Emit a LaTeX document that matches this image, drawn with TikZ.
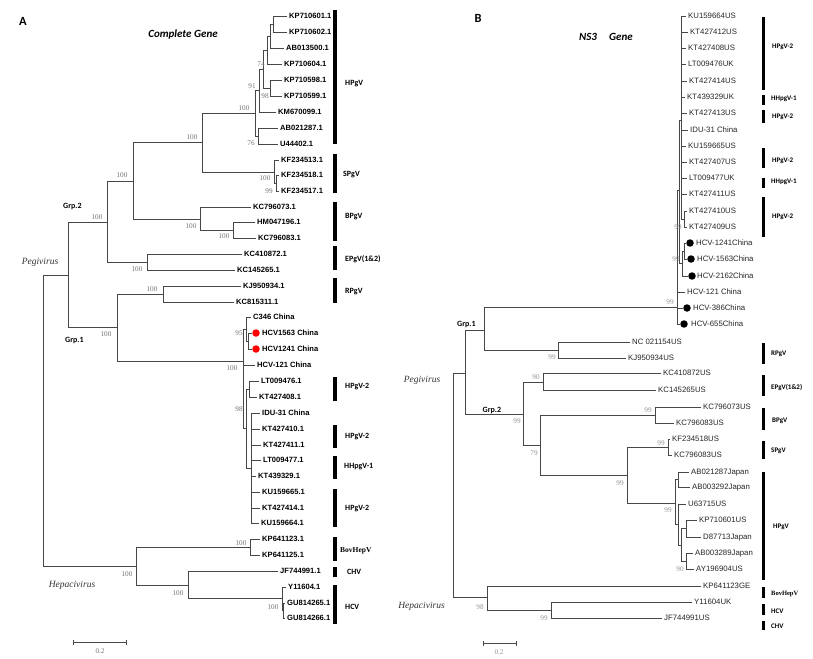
\documentclass[tikz,border=0pt]{standalone}
\usepackage{fontspec}
\setmainfont{Liberation Serif}
\newfontfamily\arialf{Liberation Sans}
\newfontfamily\calf{Carlito}
\begin{document}
\begin{tikzpicture}[x=1pt,y=-1pt,
  br/.style={draw=black!72, line width=0.55pt},
  leafA/.style={anchor=west, inner xsep=2pt, inner ysep=0pt, text height=5.6pt, text depth=0pt, font=\arialf\bfseries\fontsize{7.6}{8}\selectfont},
  leafB/.style={anchor=west, inner xsep=2pt, inner ysep=0pt, text height=5.6pt, text depth=0pt, font=\arialf\fontsize{7.8}{8}\selectfont, text=black!85},
  bs/.style={inner sep=0pt, font=\fontsize{7.2}{7.5}\selectfont, text=black!55},
  bsB/.style={bs, text=black!42},
  grp/.style={anchor=west, inner sep=0pt, font=\calf\bfseries\fontsize{8}{9}\selectfont},
  grpB/.style={anchor=west, inner sep=0pt, font=\calf\bfseries\fontsize{7}{8}\selectfont},
  grpS/.style={anchor=west, inner sep=0pt, font=\bfseries\fontsize{7.5}{8}\selectfont},
  barA/.style={line width=4pt},
  barB/.style={line width=3pt},
  rdot/.style={circle, fill=red, inner sep=0pt, minimum size=7.5pt},
  bdot/.style={circle, fill=black, inner sep=0pt, minimum size=7.5pt},
  genus/.style={inner sep=0pt, font=\itshape\fontsize{9.5}{10}\selectfont, text=black!80},
  ttl/.style={inner sep=0pt, font=\calf\bfseries\itshape\fontsize{11}{12}\selectfont},
  panel/.style={inner sep=0pt, font=\calf\bfseries\fontsize{12.5}{13}\selectfont},
]
\useasboundingbox (0,0) rectangle (813,658);
\fill[white] (0,0) rectangle (813,658);

% ================= Panel A =================
\node[panel] (pA) at (23,21) {A};
\node[ttl] (tA) at (183,35) {Complete Gene};

% leaves
\node[leafA] (a1) at (287,16) {KP710601.1};
\node[leafA] (a2) at (287,32) {KP710602.1};
\node[leafA] (a3) at (284,48) {AB013500.1};
\node[leafA] (a4) at (282,64) {KP710604.1};
\node[leafA] (a5) at (282,80) {KP710598.1};
\node[leafA] (a6) at (282,96) {KP710599.1};
\node[leafA] (a7) at (276,112) {KM670099.1};
\node[leafA] (a8) at (278,128) {AB021287.1};
\node[leafA] (a9) at (278,144) {U44402.1};
\node[leafA] (a10) at (279,160) {KF234513.1};
\node[leafA] (a11) at (279,175) {KF234518.1};
\node[leafA] (a12) at (279,191) {KF234517.1};
\node[leafA] (a13) at (251,207) {KC796073.1};
\node[leafA] (a14) at (255,222) {HM047196.1};
\node[leafA] (a15) at (256,238) {KC796083.1};
\node[leafA] (a16) at (242,254) {KC410872.1};
\node[leafA] (a17) at (235,270) {KC145265.1};
\node[leafA] (a18) at (241,286) {KJ950934.1};
\node[leafA] (a19) at (234,302) {KC815311.1};
\node[leafA] (a20) at (251,317) {C346 China};
\node[rdot] (d21) at (256,333) {};
\node[leafA] (a21) at (260,333) {HCV1563 China};
\node[rdot] (d22) at (256,349) {};
\node[leafA] (a22) at (260,349) {HCV1241 China};
\node[leafA] (a23) at (255,365) {HCV-121 China};
\node[leafA] (a24) at (259,381) {LT009476.1};
\node[leafA] (a25) at (257,397) {KT427408.1};
\node[leafA] (a26) at (260,413) {IDU-31 China};
\node[leafA] (a27) at (260,429) {KT427410.1};
\node[leafA] (a28) at (261,445) {KT427411.1};
\node[leafA] (a29) at (261,460) {LT009477.1};
\node[leafA] (a30) at (256,476) {KT439329.1};
\node[leafA] (a31) at (260,492) {KU159665.1};
\node[leafA] (a32) at (260,508) {KT427414.1};
\node[leafA] (a33) at (259,523) {KU159664.1};
\node[leafA] (a34) at (260,539) {KP641123.1};
\node[leafA] (a35) at (260,555) {KP641125.1};
\node[leafA] (a36) at (278,571) {JF744991.1};
\node[leafA] (a37) at (286,587) {Y11604.1};
\node[leafA] (a38) at (285,603) {GU814265.1};
\node[leafA] (a39) at (285,618) {GU814266.1};

% internal nodes
\coordinate (i1) at (273,24);
\coordinate (i2) at (270,36);
\coordinate (i74) at (267,50);
\coordinate (i98) at (270,88);
\coordinate (i91) at (263,69);
\coordinate (iX) at (259,90);
\coordinate (i76) at (258,136);
\coordinate (iH) at (255,113);
\coordinate (iS99) at (276,183);
\coordinate (iS) at (274,172);
\coordinate (iHS) at (202,142);
\coordinate (iB2) at (233,230);
\coordinate (iB) at (200,219);
\coordinate (iHSB) at (133,181);
\coordinate (iE) at (147,262);
\coordinate (iG2) at (107,222);
\coordinate (iR) at (163,294);
\coordinate (i95) at (248,341);
\coordinate (iC) at (246,329);
\coordinate (iL) at (249,389);
\coordinate (iRR) at (251,468);
\coordinate (i98b) at (246,428);
\coordinate (i100) at (243,361);
\coordinate (iG1) at (117,327);
\coordinate (iP) at (68,275);
\coordinate (iBov) at (250,547);
\coordinate (iHCV2) at (283.5,610);
\coordinate (iHCV) at (282,598);
\coordinate (iCH) at (188,585);
\coordinate (iHep) at (136,566);
\coordinate (rA) at (43,421);

% edges
\draw[br] (i1) |- (a1.west) (i1) |- (a2.west);
\draw[br] (i2) |- (i1) (i2) |- (a3.west);
\draw[br] (i74) |- (i2) (i74) |- (a4.west);
\draw[br] (i98) |- (a5.west) (i98) |- (a6.west);
\draw[br] (i91) |- (i74) (i91) |- (i98);
\draw[br] (iX) |- (i91) (iX) |- (a7.west);
\draw[br] (i76) |- (a8.west) (i76) |- (a9.west);
\draw[br] (iH) |- (iX) (iH) |- (i76);
\draw[br] (iS99) |- (a11.west) (iS99) |- (a12.west);
\draw[br] (iS) |- (a10.west) (iS) |- (iS99);
\draw[br] (iHS) |- (iH) (iHS) |- (iS);
\draw[br] (iB2) |- (a14.west) (iB2) |- (a15.west);
\draw[br] (iB) |- (a13.west) (iB) |- (iB2);
\draw[br] (iHSB) |- (iHS) (iHSB) |- (iB);
\draw[br] (iE) |- (a16.west) (iE) |- (a17.west);
\draw[br] (iG2) |- (iHSB) (iG2) |- (iE);
\draw[br] (iR) |- (a18.west) (iR) |- (a19.west);
\draw[br] (i95) |- (d21.west) (i95) |- (d22.west);
\draw[br] (iC) |- (a20.west) (iC) |- (i95);
\draw[br] (iL) |- (a24.west) (iL) |- (a25.west);
\draw[br] (iRR) |- (a26.west) (iRR) |- (a27.west) (iRR) |- (a28.west) (iRR) |- (a29.west)
          (iRR) |- (a30.west) (iRR) |- (a31.west) (iRR) |- (a32.west) (iRR) |- (a33.west);
\draw[br] (i98b) |- (iL) (i98b) |- (iRR);
\draw[br] (i100) |- (iC) (i100) |- (a23.west) (i100) |- (i98b);
\draw[br] (iG1) |- (iR) (iG1) |- (i100);
\draw[br] (iP) |- (iG2) (iP) |- (iG1);
\draw[br] (iBov) |- (a34.west) (iBov) |- (a35.west);
\draw[br] (iHCV2) |- (a38.west) (iHCV2) |- (a39.west);
\draw[br] (iHCV) |- (a37.west) (iHCV) |- (iHCV2);
\draw[br] (iCH) |- (a36.west) (iCH) |- (iHCV);
\draw[br] (iHep) |- (iBov) (iHep) |- (iCH);
\draw[br] (rA) |- (iP) (rA) |- (iHep);

% bootstrap values A
\node[bs] (ba1) at (261,64) {74};
\node[bs] (ba2) at (252,86) {91};
\node[bs] (ba3) at (265,96) {98};
\node[bs] (ba4) at (244,108) {100};
\node[bs] (ba5) at (251,143) {76};
\node[bs] (ba6) at (192,137) {100};
\node[bs] (ba7) at (265,178) {100};
\node[bs] (ba8) at (269,191) {99};
\node[bs] (ba9) at (191,226) {100};
\node[bs] (ba10) at (224,236) {100};
\node[bs] (ba11) at (122,175) {100};
\node[bs] (ba12) at (97,217) {100};
\node[bs] (ba13) at (137,269) {100};
\node[bs] (ba14) at (152,289) {100};
\node[bs] (ba15) at (106,334) {100};
\node[bs] (ba16) at (239,333) {95};
\node[bs] (ba17) at (232,368) {100};
\node[bs] (ba18) at (239,409) {98};
\node[bs] (ba19) at (241,543) {100};
\node[bs] (ba20) at (127,574) {100};
\node[bs] (ba21) at (178,593) {100};
\node[bs] (ba22) at (273,607) {100};

\node[grp] (gA2) at (63,207) {Grp.2};
\node[grp] (gA1) at (65,341) {Grp.1};
\node[genus] (pegA) at (40,262) {Pegivirus};
\node[genus] (hepA) at (72,585) {Hepacivirus};

% bars A
\draw[barA] (335,10) -- (335,144);
\draw[barA] (335,154) -- (335,193);
\draw[barA] (335,202) -- (335,241);
\draw[barA] (335,246) -- (335,270);
\draw[barA] (335,278) -- (335,303);
\draw[barA] (335,377) -- (335,401);
\draw[barA] (335,425) -- (335,448);
\draw[barA] (335,456) -- (335,479);
\draw[barA] (335,489) -- (335,527);
\draw[barA] (335,537) -- (335,561);
\draw[barA] (335,567) -- (335,577);
\draw[barA] (335,585) -- (335,624);
\node[grp] (cA1) at (345,84) {HPgV};
\node[grp] (cA2) at (343,175) {SPgV};
\node[grp] (cA3) at (345,217) {BPgV};
\node[grp] (cA4) at (345,259) {EPgV(1\&2)};
\node[grp] (cA5) at (345,292) {RPgV};
\node[grp] (cA6) at (345,387) {HPgV-2};
\node[grp] (cA7) at (345,437) {HPgV-2};
\node[grp] (cA8) at (344,467) {HHpgV-1};
\node[grp] (cA9) at (345,509) {HPgV-2};
\node[grpS] (cA10) at (340,551) {BovHepV};
\node[grp] (cA11) at (347,572) {CHV};
\node[grp] (cA12) at (345,607) {HCV};

% scale bar A
\coordinate (sA1) at (73,642);
\coordinate (sA2) at (126,642);
\draw[br] (sA1) -- (sA2);
\draw[br] ([yshift=-2.5pt]sA1) -- ([yshift=2.5pt]sA1);
\draw[br] ([yshift=-2.5pt]sA2) -- ([yshift=2.5pt]sA2);
\node[bs] (sAl) at (100,651) {0.2};

% ================= Panel B =================
\node[panel] (pB) at (478,18) {B};
\node[ttl] (tB1) at (588,37) {NS3};
\node[ttl] (tB2) at (621,37) {Gene};

\node[leafB] (b1) at (686,16) {KU159664US};
\node[leafB] (b2) at (688,32) {KT427412US};
\node[leafB] (b3) at (686,48) {KT427408US};
\node[leafB] (b4) at (686,64) {LT009476UK};
\node[leafB] (b5) at (687,81) {KT427414US};
\node[leafB] (b6) at (685,97) {KT439329UK};
\node[leafB] (b7) at (687,113) {KT427413US};
\node[leafB] (b8) at (688,130) {IDU-31 China};
\node[leafB] (b9) at (686,146) {KU159665US};
\node[leafB] (b10) at (687,162) {KT427407US};
\node[leafB] (b11) at (687,178) {LT009477UK};
\node[leafB] (b12) at (687,194) {KT427411US};
\node[leafB] (b13) at (687,211) {KT427410US};
\node[leafB] (b14) at (687,227) {KT427409US};
\node[bdot] (e15) at (690,243) {};
\node[leafB] (b15) at (694,243) {HCV-1241China};
\node[bdot] (e16) at (691,259) {};
\node[leafB] (b16) at (695,259) {HCV-1563China};
\node[bdot] (e17) at (692,276) {};
\node[leafB] (b17) at (695,276) {HCV-2162China};
\node[leafB] (b18) at (685,292) {HCV-121 China};
\node[bdot] (e19) at (687,308) {};
\node[leafB] (b19) at (691,308) {HCV-386China};
\node[bdot] (e20) at (684,324) {};
\node[leafB] (b20) at (689,324) {HCV-655China};
\node[leafB] (b21) at (630,342) {NC 021154US};
\node[leafB] (b22) at (626,358) {KJ950934US};
\node[leafB] (b23) at (661,373) {KC410872US};
\node[leafB] (b24) at (656,390) {KC145265US};
\node[leafB] (b25) at (701,407) {KC796073US};
\node[leafB] (b26) at (674,423) {KC796083US};
\node[leafB] (b27) at (670,439) {KF234518US};
\node[leafB] (b28) at (672,455) {KC796083US};
\node[leafB] (b29) at (689,472) {AB021287Japan};
\node[leafB] (b30) at (690,487) {AB003292Japan};
\node[leafB] (b31) at (686,504) {U63715US};
\node[leafB] (b32) at (697,520) {KP710601US};
\node[leafB] (b33) at (701,537) {D87713Japan};
\node[leafB] (b34) at (693,553) {AB003289Japan};
\node[leafB] (b35) at (694,569) {AY196904US};
\node[leafB] (b36) at (701,586) {KP641123GE};
\node[leafB] (b37) at (692,602) {Y11604UK};
\node[leafB] (b38) at (662,618) {JF744991US};

\coordinate (j1) at (681,120);
\coordinate (jP) at (684,219);
\coordinate (jC1) at (684,251);
\coordinate (jC2) at (682,263);
\coordinate (jT2) at (679,190);
\coordinate (jT3) at (677,307);
\coordinate (jR) at (558,350);
\coordinate (jG1) at (484,330);
\coordinate (jE) at (543,382);
\coordinate (jBP) at (655,415);
\coordinate (jSP) at (668,447);
\coordinate (jH0) at (678,479);
\coordinate (jH4a) at (686,528);
\coordinate (jH4b) at (686,561);
\coordinate (jH3) at (681,545);
\coordinate (jH2) at (678.5,524);
\coordinate (jH1) at (675,503);
\coordinate (j99) at (627,475);
\coordinate (j79) at (540,445);
\coordinate (jG2) at (523,414);
\coordinate (jGG) at (465,373);
\coordinate (jHep2) at (551,610);
\coordinate (jHep) at (487,597);
\coordinate (rB) at (453,485);

\draw[br] (j1) |- (b1.west) (j1) |- (b2.west) (j1) |- (b3.west) (j1) |- (b4.west)
          (j1) |- (b5.west) (j1) |- (b6.west) (j1) |- (b7.west) (j1) |- (b8.west)
          (j1) |- (b9.west) (j1) |- (b10.west) (j1) |- (b11.west) (j1) |- (b12.west)
          (j1) |- (jP);
\draw[br] (jP) |- (b13.west) (jP) |- (b14.west);
\draw[br] (jC1) |- (e15.west) (jC1) |- (e16.west);
\draw[br] (jC2) |- (jC1) (jC2) |- (e17.west);
\draw[br] (jT2) |- (j1) (jT2) |- (jC2);
\draw[br] (jT3) |- (jT2) (jT3) |- (b18.west) (jT3) |- (e19.west) (jT3) |- (e20.west);
\draw[br] (jR) |- (b21.west) (jR) |- (b22.west);
\draw[br] (jG1) |- (jT3) (jG1) |- (jR);
\draw[br] (jE) |- (b23.west) (jE) |- (b24.west);
\draw[br] (jBP) |- (b25.west) (jBP) |- (b26.west);
\draw[br] (jSP) |- (b27.west) (jSP) |- (b28.west);
\draw[br] (jH0) |- (b29.west) (jH0) |- (b30.west);
\draw[br] (jH4a) |- (b32.west) (jH4a) |- (b33.west);
\draw[br] (jH4b) |- (b34.west) (jH4b) |- (b35.west);
\draw[br] (jH3) |- (jH4a) (jH3) |- (jH4b);
\draw[br] (jH2) |- (b31.west) (jH2) |- (jH3);
\draw[br] (jH1) |- (jH0) (jH1) |- (jH2);
\draw[br] (j99) |- (jSP) (j99) |- (jH1);
\draw[br] (j79) |- (jBP) (j79) |- (j99);
\draw[br] (jG2) |- (jE) (jG2) |- (j79);
\draw[br] (jGG) |- (jG1) (jGG) |- (jG2);
\draw[br] (jHep2) |- (b37.west) (jHep2) |- (b38.west);
\draw[br] (jHep) |- (b36.west) (jHep) |- (jHep2);
\draw[br] (rB) |- (jGG) (rB) |- (jHep);

\node[bsB] (bb1) at (678,227) {99};
\node[bsB] (bb2) at (676,259) {99};
\node[bsB] (bb3) at (670,302) {99};
\node[bsB] (bb4) at (552,357) {99};
\node[bsB] (bb5) at (536,377) {90};
\node[bsB] (bb6) at (517,421) {99};
\node[bsB] (bb7) at (534,453) {79};
\node[bsB] (bb8) at (648,410) {99};
\node[bsB] (bb9) at (661,443) {99};
\node[bsB] (bb10) at (620,483) {99};
\node[bsB] (bb11) at (668,510) {99};
\node[bsB] (bb12) at (680,569) {90};
\node[bsB] (bb13) at (480,607) {98};
\node[bsB] (bb14) at (544,618) {99};

\node[grp] (gB1) at (457,325) {Grp.1};
\node[grp, fill=white, inner xsep=1.5pt] (gB2) at (481,411) {Grp.2};
\node[genus] (pegB) at (422,380) {Pegivirus};
\node[genus, anchor=east] (hepB) at (445,606) {Hepacivirus};

\draw[barB] (763,17) -- (763,90);
\draw[barB] (763,95) -- (763,105);
\draw[barB] (763,110) -- (763,123);
\draw[barB] (763,148) -- (763,168);
\draw[barB] (763,178) -- (763,188);
\draw[barB] (763,197) -- (763,237);
\draw[barB] (763,343) -- (763,364);
\draw[barB] (763,375) -- (763,396);
\draw[barB] (763,408) -- (763,430);
\draw[barB] (763,441) -- (763,459);
\draw[barB] (763,472) -- (763,580);
\draw[barB] (763,587) -- (763,598);
\draw[barB] (763,604) -- (763,615);
\draw[barB] (763,621) -- (763,630);
\node[grpB] (cB1) at (772,47) {HPgV-2};
\node[grpB] (cB2) at (771,99) {HHpgV-1};
\node[grpB] (cB3) at (772,117) {HPgV-2};
\node[grpB] (cB4) at (772,161) {HPgV-2};
\node[grpB] (cB5) at (771,182) {HHpgV-1};
\node[grpB] (cB6) at (772,217) {HPgV-2};
\node[grpB] (cB7) at (771,354) {RPgV};
\node[grpB] (cB8) at (771,387) {EPgV(1\&2)};
\node[grpB] (cB9) at (772,421) {BPgV};
\node[grpB] (cB10) at (771,451) {SPgV};
\node[grpB] (cB11) at (773,527) {HPgV};
\node[grpS, font=\bfseries\fontsize{6.5}{7}\selectfont] (cB12) at (771,594) {BovHepV};
\node[grpB] (cB13) at (771,611) {HCV};
\node[grpB] (cB14) at (771,626) {CHV};

\coordinate (sB1) at (483,643);
\coordinate (sB2) at (516,643);
\draw[br] (sB1) -- (sB2);
\draw[br] ([yshift=-2.5pt]sB1) -- ([yshift=2.5pt]sB1);
\draw[br] ([yshift=-2.5pt]sB2) -- ([yshift=2.5pt]sB2);
\node[bsB] (sBl) at (499,652) {0.2};
\end{tikzpicture}
\end{document}
